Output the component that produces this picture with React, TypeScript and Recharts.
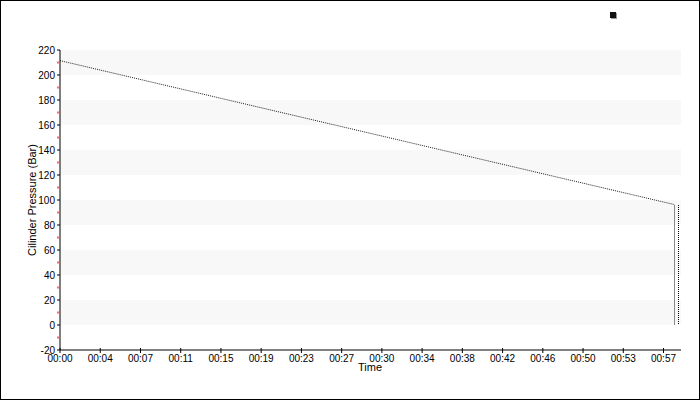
import React from "react";
import {
  LineChart,
  Line,
  XAxis,
  YAxis,
  ReferenceArea,
  Label,
} from "recharts";

// pressure over time (minutes)
const timeMin = [0, 58.0];
const pressureBar = [211.5, 96.4];

// final drop down to empty
const dropTime = [58.0, 58.0];
const dropPressure = [96.4, 0];

// second marker trace at the very end
const ventTime = [58.4, 58.4];
const ventPressure = [96.4, 0];

const xTicks = [0, 3.8, 7.6, 11.4, 15.2, 19, 22.8, 26.6, 30.4, 34.2, 38, 41.8, 45.6, 49.4, 53.2, 57];
const xTickLabels = [
  "00:00", "00:04", "00:07", "00:11", "00:15", "00:19", "00:23", "00:27",
  "00:30", "00:34", "00:38", "00:42", "00:46", "00:50", "00:53", "00:57",
];
const yTicks = [-20, -10, 0, 10, 20, 30, 40, 50, 60, 70, 80, 90, 100, 110, 120, 130, 140, 150, 160, 170, 180, 190, 200, 210, 220];
const bandRanges: [number, number][] = [
  [200, 220],
  [160, 180],
  [120, 140],
  [80, 100],
  [40, 60],
  [0, 20],
];

const mainData = timeMin.map((t, i) => ({ t, p: pressureBar[i] }));
const dropData = dropTime.map((t, i) => ({ t, p: dropPressure[i] }));
const ventData = ventTime.map((t, i) => ({ t, p: ventPressure[i] }));

const FONT = "'Liberation Sans', Arial, sans-serif";

const YTick = (props: any) => {
  const { x, y, payload } = props;
  const v = payload.value;
  if (v % 20 !== 0) {
    return <rect x={x - 3} y={y - 1} width={2} height={2} fill="#f07070" />;
  }
  return (
    <g>
      <line x1={x - 3} x2={x} y1={y} y2={y} stroke="#000" />
      <text x={x - 5} y={y} dy={3.5} textAnchor="end" fontSize={10} fontFamily={FONT} fill="#000">
        {v}
      </text>
    </g>
  );
};

const XTick = (props: any) => {
  const { x, y, index } = props;
  const label = xTickLabels[index] ?? "";
  return (
    <g>
      <line x1={x} x2={x} y1={y - 2} y2={y + 3} stroke="#000" />
      <text x={x} y={y} dy={12} textAnchor="middle" fontSize={10} fontFamily={FONT} fill="#000">
        {label}
      </text>
    </g>
  );
};

export default function App() {
  return (
    <div
      style={{
        position: "fixed",
        left: 0,
        top: 0,
        width: 700,
        height: 400,
        boxSizing: "border-box",
        border: "1px solid #000",
        background: "#fff",
        fontFamily: FONT,
      }}
    >
      <div
        style={{
          position: "absolute",
          left: 609,
          top: 11,
          width: 6,
          height: 6,
          background: "#111",
          boxShadow: "1px 1px 0 #999",
        }}
      />
      <LineChart width={698} height={398} margin={{ top: 49, right: 18, left: 0, bottom: 0 }}>
        {bandRanges.map(([a, b]) => (
          <ReferenceArea key={a} y1={a} y2={b} fill="#f8f8f8" fillOpacity={1} stroke="none" />
        ))}
        <XAxis
          type="number"
          dataKey="t"
          domain={[0, 58.65]}
          ticks={xTicks}
          tick={<XTick />}
          tickLine={false}
          tickSize={0}
          tickMargin={0}
          height={49}
          stroke="#000"
          allowDataOverflow
          interval={0}
        >
          <Label
            content={() => (
              <text x={369} y={370} textAnchor="middle" fontSize={11} fontFamily={FONT} fill="#000">
                Time
              </text>
            )}
          />
        </XAxis>
        <YAxis
          type="number"
          dataKey="p"
          domain={[-20, 220]}
          ticks={yTicks}
          tick={<YTick />}
          tickLine={false}
          tickSize={0}
          tickMargin={0}
          width={59}
          stroke="#000"
          interval={0}
          allowDataOverflow
        >
          <Label
            content={() => (
              <text
                x={0}
                y={0}
                transform="translate(35 199) rotate(-90)"
                textAnchor="middle"
                fontSize={11}
                fontFamily={FONT}
                fill="#000"
              >
                Cilinder Pressure (Bar)
              </text>
            )}
          />
        </YAxis>
        <Line
          data={mainData}
          dataKey="p"
          type="linear"
          stroke="#222"
          strokeWidth={1}
          strokeDasharray="1 1"
          dot={false}
          isAnimationActive={false}
        />
        <Line
          data={dropData}
          dataKey="p"
          type="linear"
          stroke="#8a8a8a"
          strokeWidth={1}
          shapeRendering="crispEdges"
          dot={false}
          isAnimationActive={false}
        />
        <Line
          data={ventData}
          dataKey="p"
          type="linear"
          stroke="#000"
          strokeWidth={1}
          strokeDasharray="1 1"
          shapeRendering="crispEdges"
          dot={false}
          isAnimationActive={false}
        />
      </LineChart>
    </div>
  );
}
